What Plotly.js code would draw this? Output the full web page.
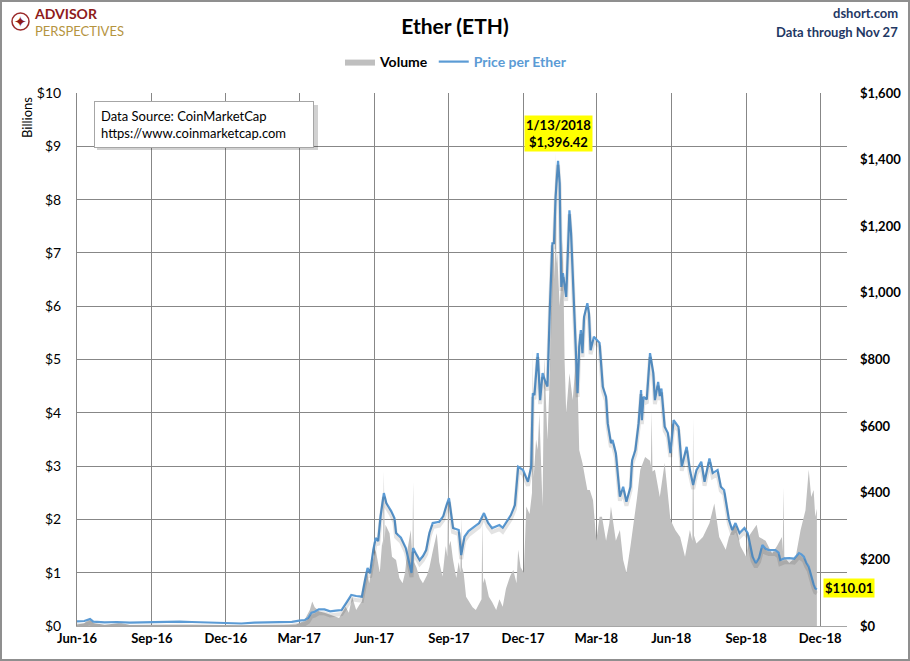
<!DOCTYPE html>
<html>
<head>
<meta charset="utf-8">
<script src="https://cdn.plot.ly/plotly-3.0.1.min.js"></script>
<style>
  html, body { margin: 0; padding: 0; background: #fff; }
  #wrap { position: relative; width: 910px; height: 661px; }
  #chart { width: 910px; height: 661px; }
  #frame { position: absolute; left: 0; top: 0; width: 910px; height: 661px; box-sizing: border-box; border: 2px solid #8f8f8f; pointer-events: none; }
</style>
</head>
<body>
<div id="wrap"><div id="chart"></div><div id="frame"></div></div>
<script>
// ---------------- DATA ----------------
const priceDates = [
'2016-06-01','2016-06-10','2016-06-17','2016-06-21','2016-07-05','2016-07-20','2016-08-05','2016-08-20',
'2016-09-05','2016-09-20','2016-10-05','2016-10-20','2016-11-05','2016-11-20','2016-12-05','2016-12-20',
'2017-01-05','2017-01-20','2017-02-05','2017-02-20','2017-03-01','2017-03-08','2017-03-12','2017-03-16',
'2017-03-20','2017-03-25','2017-04-01','2017-04-08','2017-04-15','2017-04-22','2017-04-28','2017-05-04',
'2017-05-10','2017-05-17','2017-05-21','2017-05-24','2017-05-27','2017-05-31','2017-06-03','2017-06-06',
'2017-06-09','2017-06-13','2017-06-16','2017-06-22','2017-06-26','2017-06-28','2017-07-04','2017-07-10',
'2017-07-17','2017-07-19','2017-07-23','2017-07-27','2017-07-31','2017-08-04','2017-08-08','2017-08-12',
'2017-08-20','2017-08-25','2017-08-29','2017-09-01','2017-09-06','2017-09-10','2017-09-13','2017-09-16',
'2017-09-20','2017-09-25','2017-09-30','2017-10-08','2017-10-14','2017-10-19','2017-10-24','2017-10-29',
'2017-11-02','2017-11-06','2017-11-10','2017-11-16','2017-11-21','2017-11-25','2017-12-01','2017-12-07',
'2017-12-11','2017-12-13','2017-12-15','2017-12-19','2017-12-22','2017-12-25','2017-12-29','2017-12-31',
'2018-01-03','2018-01-06','2018-01-08','2018-01-10','2018-01-13','2018-01-15','2018-01-17','2018-01-19',
'2018-01-23','2018-01-27','2018-01-29','2018-01-31','2018-02-02','2018-02-04','2018-02-06','2018-02-08',
'2018-02-10','2018-02-12','2018-02-14','2018-02-18','2018-02-20','2018-02-22','2018-02-26','2018-03-02',
'2018-03-05','2018-03-09','2018-03-13','2018-03-15','2018-03-19','2018-03-21','2018-03-25','2018-03-30',
'2018-04-03','2018-04-07','2018-04-12','2018-04-14','2018-04-18','2018-04-22','2018-04-25','2018-04-26',
'2018-04-28','2018-05-02','2018-05-06','2018-05-10','2018-05-12','2018-05-16','2018-05-18','2018-05-20',
'2018-05-24','2018-05-28','2018-05-31','2018-06-04','2018-06-10','2018-06-14','2018-06-20','2018-06-24',
'2018-06-28','2018-07-02','2018-07-08','2018-07-12','2018-07-18','2018-07-22','2018-07-28','2018-08-01',
'2018-08-05','2018-08-11','2018-08-15','2018-08-19','2018-08-24','2018-08-30','2018-09-03','2018-09-09',
'2018-09-13','2018-09-17','2018-09-21','2018-09-25','2018-09-29','2018-10-07','2018-10-11','2018-10-13',
'2018-10-18','2018-10-24','2018-10-30','2018-11-05','2018-11-08','2018-11-11','2018-11-14','2018-11-17',
'2018-11-19','2018-11-21','2018-11-23','2018-11-25','2018-11-27'
];
const priceValues = [
14,15,21,13,11,12,10,11,
12,13,13,12,11,9.5,8,7.5,
10,10.5,11,12.5,16,18,24,40,
43,50,50,44,46,48,70,93,
90,88,140,174,158,228,264,255,
330,399,369,345,324,279,265,234,
159,234,215,198,210,228,280,309,
313,330,363,384,294,290,288,213,
268,285,294,309,339,310,294,300,
303,295,309,333,363,478,468,433,
478,699,693,819,678,759,729,719,
958,1149,1149,1288,1396.42,1329,1018,1059,
988,1248,1179,1059,958,858,699,838,
888,819,928,969,938,828,868,858,
850,718,688,609,549,558,519,388,
418,373,418,498,528,609,708,618,
688,680,819,759,678,733,690,713,
598,579,519,618,598,478,538,468,
423,468,493,433,503,459,468,418,
408,318,288,309,279,294,279,208,
189,205,243,232,228,228,220,198,
203,204,202,219,215,208,190,178,
160,138,125,113,110.01
];
const volumeDates = [
'2016-06-01','2016-06-10','2016-06-17','2016-06-21','2016-07-05','2016-07-24','2016-08-05','2016-09-01',
'2016-09-20','2016-10-10','2016-11-01','2016-12-01','2017-01-01','2017-01-20','2017-02-10','2017-02-25',
'2017-03-01','2017-03-07','2017-03-14','2017-03-17','2017-03-20','2017-03-26','2017-04-01','2017-04-10',
'2017-04-19','2017-04-27','2017-05-01','2017-05-05','2017-05-10','2017-05-14','2017-05-17','2017-05-23',
'2017-05-26','2017-05-30','2017-06-03','2017-06-08','2017-06-11','2017-06-12','2017-06-13','2017-06-14',
'2017-06-15','2017-06-20','2017-06-23','2017-06-28','2017-07-02','2017-07-06','2017-07-09','2017-07-12',
'2017-07-16','2017-07-18','2017-07-19','2017-07-20','2017-07-23','2017-07-27','2017-07-31','2017-08-05',
'2017-08-08','2017-08-12','2017-08-17','2017-08-20','2017-08-24','2017-08-28','2017-08-30','2017-08-31',
'2017-09-01','2017-09-03','2017-09-06','2017-09-10','2017-09-13','2017-09-15','2017-09-16','2017-09-17',
'2017-09-19','2017-09-22','2017-09-26','2017-09-30','2017-10-04','2017-10-08','2017-10-11','2017-10-12',
'2017-10-13','2017-10-15','2017-10-20','2017-10-24','2017-10-29','2017-11-02','2017-11-06','2017-11-10',
'2017-11-15','2017-11-19','2017-11-23','2017-11-25','2017-11-28','2017-12-02','2017-12-05','2017-12-09',
'2017-12-12','2017-12-13','2017-12-14','2017-12-15','2017-12-17','2017-12-19','2017-12-21','2017-12-25',
'2017-12-27','2017-12-31','2018-01-03','2018-01-06','2018-01-08','2018-01-09','2018-01-10','2018-01-11',
'2018-01-12','2018-01-15','2018-01-17','2018-01-19','2018-01-21','2018-01-23','2018-01-27','2018-01-31',
'2018-02-05','2018-02-08','2018-02-12','2018-02-15','2018-02-18','2018-02-21','2018-02-25','2018-03-01',
'2018-03-05','2018-03-08','2018-03-11','2018-03-13','2018-03-17','2018-03-19','2018-03-25','2018-03-30',
'2018-04-03','2018-04-07','2018-04-12','2018-04-16','2018-04-20','2018-04-24','2018-04-30','2018-05-06',
'2018-05-07','2018-05-08','2018-05-09','2018-05-12','2018-05-18','2018-05-24','2018-05-31','2018-06-06',
'2018-06-12','2018-06-18','2018-06-24','2018-06-27','2018-06-28','2018-06-29','2018-07-02','2018-07-10',
'2018-07-18','2018-07-24','2018-07-30','2018-08-07','2018-08-11','2018-08-15','2018-08-19','2018-08-25',
'2018-09-01','2018-09-05','2018-09-09','2018-09-14','2018-09-17','2018-09-25','2018-10-03','2018-10-09',
'2018-10-15','2018-10-16','2018-10-17','2018-10-18','2018-10-24','2018-11-01','2018-11-07','2018-11-13',
'2018-11-17','2018-11-20','2018-11-23','2018-11-25','2018-11-27'
];
const volumeValues = [
0.03,0.05,0.15,0.06,0.02,0.06,0.02,0.02,
0.015,0.02,0.015,0.01,0.01,0.02,0.02,0.03,
0.05,0.1,0.3,0.46,0.35,0.27,0.25,0.2,
0.15,0.36,0.25,0.55,0.3,0.4,0.46,1.05,
0.8,1.2,1.43,1.0,1.6,1.5,2.9,1.6,
1.9,1.74,1.3,1.24,0.9,0.8,1.0,1.43,
1.8,1.3,2.7,1.2,1.1,0.9,0.8,0.95,
1.1,1.4,1.74,1.2,0.93,1.5,1.3,2.8,
1.5,1.6,1.24,0.9,1.2,1.0,2.05,1.1,
1.0,0.55,0.45,0.35,0.3,0.4,0.5,2.05,
0.8,0.9,0.55,0.45,0.3,0.5,0.36,0.7,
0.93,1.05,0.8,1.43,1.1,1.0,2.24,2.1,
2.5,5.2,2.8,3.0,3.5,3.3,4.0,2.24,
5.05,3.5,4.74,7.2,7.0,6.5,8.9,6.8,
7.0,6.0,6.5,7.24,5.0,4.0,4.74,4.24,
5.2,3.3,3.06,2.8,2.55,2.55,2.36,1.6,
2.05,2.05,1.8,1.6,1.93,2.24,1.6,1.8,
1.24,1.0,1.5,1.93,2.4,2.93,3.17,3.1,
3.0,4.05,2.9,2.93,2.42,3.06,2.0,1.8,
1.67,1.3,1.8,1.6,3.9,1.7,1.55,1.67,
1.93,2.3,1.67,1.43,1.67,1.8,1.93,1.5,
1.3,1.7,1.8,1.9,1.67,1.6,1.36,1.5,
1.67,1.4,2.6,1.3,1.18,1.3,1.8,2.17,
2.93,2.42,2.55,2.05,2.2
];
const xTickDates = ['2016-06-01','2016-09-01','2016-12-01','2017-03-01','2017-06-01','2017-09-01','2017-12-01','2018-03-01','2018-06-01','2018-09-01','2018-12-01'];
const xTickLabels = ['Jun-16','Sep-16','Dec-16','Mar-17','Jun-17','Sep-17','Dec-17','Mar-18','Jun-18','Sep-18','Dec-18'];
const priceTicks = [0,200,400,600,800,1000,1200,1400,1600];
const priceTickLabels = ['$0','$200','$400','$600','$800','$1,000','$1,200','$1,400','$1,600'];
const peakDate = '2018-01-13';
const peakLabel = '1/13/2018<br>$1,396.42';
const lastLabel = '$110.01';

// ---------------- LAYOUT HELPERS ----------------
const L = 77, R = 847, T = 93, B = 626;
const px = x => (x - L) / (R - L);
const py = y => (B - y) / (B - T);
const FONT = 'Lato, "Open Sans", sans-serif';
const BLUE = '#5B9BD5';
const GRID = '#878787';

const traces = [
  {
    x: volumeDates, y: volumeValues, type: 'scatter', mode: 'lines',
    name: '<b>Volume</b>', fill: 'tozeroy', fillcolor: '#BFBFBF',
    line: { width: 0, color: '#BFBFBF' }, xaxis: 'x', yaxis: 'y', hoverinfo: 'skip'
  },
  {
    x: priceDates, y: priceValues, type: 'scatter', mode: 'lines',
    showlegend: false, line: { width: 4, color: 'rgba(0,0,0,0.11)' },
    xaxis: 'x', yaxis: 'y3', hoverinfo: 'skip'
  },
  {
    x: priceDates, y: priceValues, type: 'scatter', mode: 'lines',
    name: '<b><span style="color:' + BLUE + '">Price per Ether</span></b>',
    line: { width: 2.2, color: BLUE }, xaxis: 'x', yaxis: 'y2', hoverinfo: 'skip'
  }
];

const layout = {
  width: 910, height: 661,
  margin: { l: L, r: 910 - R, t: T, b: 661 - B, pad: 0 },
  paper_bgcolor: '#ffffff', plot_bgcolor: '#ffffff',
  font: { family: FONT, size: 13, color: '#000' },
  showlegend: true,
  title: {
    text: '<b>Ether (ETH)</b>', x: 0.5, xref: 'container', xanchor: 'center',
    y: 1 - 27 / 661, yref: 'container', yanchor: 'middle',
    font: { family: FONT, size: 21, color: '#000' }
  },
  legend: {
    orientation: 'h', xref: 'container', yref: 'container',
    x: 456 / 910, xanchor: 'center', y: 1 - 62 / 661, yanchor: 'middle',
    font: { family: FONT, size: 14, color: '#000' }, bgcolor: 'rgba(0,0,0,0)',
    itemwidth: 30, tracegroupgap: 0
  },
  xaxis: {
    type: 'date', range: ['2016-06-01', '2019-01-03'],
    tickmode: 'array', tickvals: xTickDates, ticktext: xTickLabels.map(t => '<b>' + t + '</b>'),
    showgrid: true, gridcolor: GRID, gridwidth: 1,
    showline: true, linecolor: '#A6A6A6', linewidth: 1,
    ticks: '', tickfont: { family: FONT, size: 13, color: '#000' },
    zeroline: false, fixedrange: true
  },
  yaxis: {
    range: [0, 10], dtick: 1, tick0: 0, tickprefix: '$',
    showgrid: true, gridcolor: GRID, gridwidth: 1,
    showline: true, linecolor: GRID, linewidth: 1, zeroline: false,
    ticks: '', ticklabelstandoff: 12,
    tickfont: { family: FONT, size: 14, color: '#000' }, fixedrange: true
  },
  yaxis2: {
    range: [0, 1600], overlaying: 'y', side: 'right',
    tickmode: 'array', tickvals: priceTicks, ticktext: priceTickLabels.map(t => '<b>' + t + '</b>'),
    showgrid: false, zeroline: false, showline: false, ticks: '',
    ticklabelstandoff: 12,
    tickfont: { family: FONT, size: 13, color: '#000' }, fixedrange: true
  },
  yaxis3: {
    range: [12, 1612], overlaying: 'y', visible: false, fixedrange: true
  },
  shapes: [
    { type: 'rect', xref: 'paper', yref: 'paper', x0: px(97), x1: px(318), y0: py(105), y1: py(150),
      fillcolor: 'rgba(0,0,0,0.18)', line: { width: 0 }, layer: 'above' },
    { type: 'circle', xref: 'paper', yref: 'paper', x0: px(12), x1: px(29), y0: py(30), y1: py(13),
      fillcolor: 'rgba(0,0,0,0)', line: { color: '#9A2A2A', width: 1.5 }, layer: 'above' }
  ],
  annotations: [
    { xref: 'paper', yref: 'paper', x: px(20.5), y: py(21.5), text: '✦', showarrow: false,
      font: { family: 'DejaVu Sans', size: 15, color: '#8E1B1B' }, xanchor: 'center', yanchor: 'middle' },
    { xref: 'paper', yref: 'paper', x: px(32), y: py(22), xanchor: 'left', yanchor: 'middle', align: 'left',
      text: '<span style="color:#8E1B1B;font-size:14px"><b>ADVISOR</b></span><br><span style="color:#B5943F;font-size:13px">PERSPECTIVES</span>',
      showarrow: false, font: { family: FONT, size: 13, color: '#8E1B1B' } },
    { xref: 'paper', yref: 'paper', x: px(900), y: py(13), text: '<b>dshort.com</b>', showarrow: false,
      xanchor: 'right', yanchor: 'middle', font: { family: FONT, size: 13, color: '#1F3864' } },
    { xref: 'paper', yref: 'paper', x: px(900), y: py(32), text: '<b>Data through Nov 27</b>', showarrow: false,
      xanchor: 'right', yanchor: 'middle', font: { family: FONT, size: 13, color: '#1F3864' } },
    { xref: 'paper', yref: 'paper', x: px(27), y: py(118), text: 'Billions', showarrow: false, textangle: -90,
      xanchor: 'center', yanchor: 'middle', font: { family: FONT, size: 13, color: '#000' } },
    { xref: 'paper', yref: 'paper', x: px(94), y: py(101), xanchor: 'left', yanchor: 'top',
      text: 'Data Source: CoinMarketCap<br>https://www.coinmarketcap.com', align: 'left', showarrow: false,
      width: 206, borderpad: 6, bordercolor: '#A6A6A6', borderwidth: 1, bgcolor: '#ffffff',
      font: { family: FONT, size: 13, color: '#000' } },
    { xref: 'x', yref: 'paper', x: peakDate, y: py(134), text: '<b>' + peakLabel + '</b>', showarrow: false,
      xanchor: 'center', yanchor: 'middle', bgcolor: '#FFFF00', borderpad: 1,
      font: { family: FONT, size: 13, color: '#000' } },
    { xref: 'paper', yref: 'paper', x: px(849), y: py(588), text: '<b>' + lastLabel + '</b>', showarrow: false,
      xanchor: 'center', yanchor: 'middle', bgcolor: '#FFFF00', borderpad: 1,
      font: { family: FONT, size: 13, color: '#000' } }
  ]
};

Plotly.newPlot('chart', traces, layout, { displayModeBar: false, staticPlot: true });
</script>
</body>
</html>
